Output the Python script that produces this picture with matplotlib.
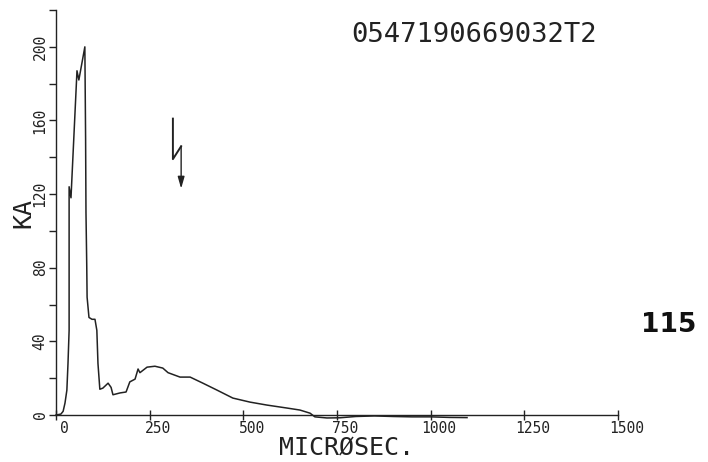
import numpy as np
import matplotlib.pyplot as plt
from matplotlib.transforms import ScaledTranslation

# current record, time in microseconds, current in kA
t_us = [0, 13, 19, 24, 29, 32, 35, 35, 35, 40, 56, 61, 77, 79, 80, 82, 83, 88,
        96, 104, 109, 112, 117, 125, 139, 147, 152, 171, 187, 197, 211, 219,
        224, 243, 264, 285, 299, 331, 358, 392, 430, 472, 518, 563, 616, 651,
        678, 691, 723, 758, 800, 850, 900, 950, 1000, 1050, 1097]
i_ka = [0, 0.5, 2, 6.5, 13.5, 28, 46, 89, 124, 118, 187, 182, 200, 150, 110,
        82, 64, 53, 52, 52, 46, 28, 14, 14.6, 17.3, 15, 11, 12, 12.5, 18, 19.5,
        25, 23, 26, 26.5, 25.5, 23, 20.6, 20.6, 17.3, 13.5, 9.2, 7, 5.4, 3.8,
        2.7, 1, -1, -1.6, -1.5, -0.8, -0.5, -0.8, -1, -1, -1.3, -1.4]

x_ticks = [0, 250, 500, 750, 1000, 1250, 1500]
y_ticks = [0, 40, 80, 120, 160, 200]
y_minor = [20, 60, 100, 140, 180, 220]

record_id = "0547190669032T2"
page_no = "115"

# flash marker: zig-zag stroke ending in an arrow
flash_x = [312, 312, 334]
flash_y = [161, 139, 146]
flash_tip = (334, 123)

ink = "#222222"
mono = "DejaVu Sans Mono"

fig = plt.figure(figsize=(7.08, 4.62), dpi=100)
ax = fig.add_axes([0.0791, 0.1017, 0.7938, 0.8766])

ax.plot(t_us, i_ka, color=ink, lw=1.1, clip_on=False)

ax.plot(flash_x, flash_y, color=ink, lw=1.4)
ax.annotate("", xy=flash_tip, xytext=(flash_x[-1], flash_y[-1]),
            arrowprops=dict(arrowstyle="-|>,head_length=0.7,head_width=0.2",
                            color=ink, lw=1.0, shrinkA=0, shrinkB=0))

ax.set_xlim(0, 1500)
ax.set_ylim(0, 220)

for side in ("top", "right"):
    ax.spines[side].set_visible(False)
for side in ("left", "bottom"):
    ax.spines[side].set_color(ink)
    ax.spines[side].set_linewidth(1.0)

ax.set_xticks(x_ticks)
ax.set_xticklabels([str(v) for v in x_ticks], fontfamily=mono, fontsize=10.5,
                   color=ink)
ax.set_yticks(y_ticks)
ax.set_yticks(y_minor, minor=True)
ax.set_yticklabels([str(v) for v in y_ticks], fontfamily=mono, fontsize=10.5,
                   color=ink, rotation=90, va="center")

ax.tick_params(axis="x", direction="inout", length=7, width=1.0, color=ink,
               pad=1)
ax.tick_params(axis="y", which="both", direction="out", length=5, width=1.0,
               color=ink, pad=1)

# plotter labels sit a little to the right of their ticks
shift = ScaledTranslation(6 / 72, 0, fig.dpi_scale_trans)
for lbl in ax.get_xticklabels():
    lbl.set_transform(lbl.get_transform() + shift)

ax.set_xlabel("MICRØSEC.", fontfamily=mono, fontsize=18, color=ink, va="top")
ax.xaxis.set_label_coords(0.516, -0.05)
ax.set_ylabel("KA", fontfamily=mono, fontsize=18, color=ink)
ax.yaxis.set_label_coords(-0.037, 0.5)

fig.text(474 / 708, 1 - 35 / 462, record_id, fontfamily=mono, fontsize=19.5,
         color=ink, ha="center", va="center")
fig.text(669 / 708, 1 - 325 / 462, page_no, fontfamily="DejaVu Sans",
         fontweight="bold", fontsize=19, color="#111111", ha="center",
         va="center")

fig.savefig("out.png", dpi=100)
